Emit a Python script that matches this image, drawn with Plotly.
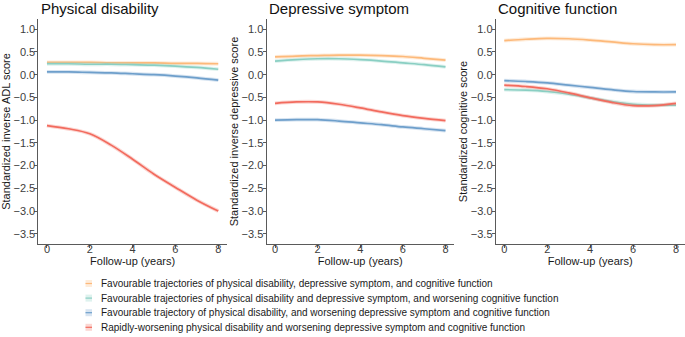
import plotly.graph_objects as go

years = [0, 1, 2, 3, 4, 5, 6, 7, 8]

series_names = [
    "Favourable trajectories of physical disability, depressive symptom, and cognitive function",
    "Favourable trajectories of physical disability and depressive symptom, and worsening cognitive function",
    "Favourable trajectory of physical disability, and worsening depressive symptom and cognitive function",
    "Rapidly-worsening physical disability and worsening depressive symptom and cognitive function",
]
colors = ["#FDB97A", "#8ACFC3", "#6E9FCB", "#F26B5E"]
band_colors = ["rgba(253,185,122,0.28)", "rgba(138,207,195,0.28)",
               "rgba(110,159,203,0.28)", "rgba(242,107,94,0.28)"]

# Physical disability (standardized inverse ADL score)
adl_orange = [0.27, 0.27, 0.27, 0.26, 0.26, 0.26, 0.25, 0.25, 0.24]
adl_teal = [0.24, 0.24, 0.23, 0.23, 0.22, 0.21, 0.19, 0.16, 0.12]
adl_blue = [0.06, 0.06, 0.05, 0.04, 0.02, 0.00, -0.03, -0.07, -0.12]
adl_red = [-1.12, -1.19, -1.30, -1.55, -1.86, -2.19, -2.48, -2.76, -3.00]

# Depressive symptom
dep_orange = [0.39, 0.41, 0.42, 0.43, 0.43, 0.42, 0.40, 0.36, 0.32]
dep_teal = [0.30, 0.33, 0.35, 0.35, 0.33, 0.30, 0.26, 0.22, 0.17]
dep_blue = [-1.00, -0.99, -0.99, -1.02, -1.06, -1.10, -1.15, -1.19, -1.23]
dep_red = [-0.63, -0.60, -0.60, -0.65, -0.73, -0.82, -0.90, -0.96, -1.01]

# Cognitive function
cog_orange = [0.75, 0.78, 0.80, 0.79, 0.76, 0.72, 0.68, 0.66, 0.66]
cog_teal = [-0.33, -0.34, -0.37, -0.43, -0.51, -0.59, -0.65, -0.67, -0.67]
cog_blue = [-0.13, -0.15, -0.18, -0.23, -0.28, -0.33, -0.37, -0.38, -0.38]
cog_red = [-0.23, -0.26, -0.31, -0.40, -0.51, -0.61, -0.68, -0.68, -0.63]

panel_titles = ["Physical disability", "Depressive symptom", "Cognitive function"]
y_titles = ["Standardized inverse ADL score", "Standardized inverse depressive score",
            "Standardized cognitive score"]
x_title = "Follow-up (years)"
y_ticks = [1.0, 0.5, 0.0, -0.5, -1.0, -1.5, -2.0, -2.5, -3.0, -3.5]
y_ticklabels = ["1.0", "0.5", "0.0", "\u22120.5", "\u22121.0", "\u22121.5", "\u22122.0",
                "\u22122.5", "\u22123.0", "\u22123.5"]
x_ticks = [0, 2, 4, 6, 8]

panels = [
    [adl_orange, adl_teal, adl_blue, adl_red],
    [dep_orange, dep_teal, dep_blue, dep_red],
    [cog_orange, cog_teal, cog_blue, cog_red],
]

W, H = 685, 337
FONT = "Liberation Sans, Arial, sans-serif"

fig = go.Figure()

x_domains = [(38.4 / W, 226.8 / W), (266.5 / W, 454.0 / W), (495.7 / W, 684.6 / W)]
y_domain = (1 - 244 / H, 1 - 19 / H)

for p, data in enumerate(panels):
    xa = "x" if p == 0 else f"x{p+1}"
    ya = "y" if p == 0 else f"y{p+1}"
    for s, vals in enumerate(data):
        fig.add_trace(go.Scatter(
            x=years, y=vals, mode="lines", xaxis=xa, yaxis=ya,
            line=dict(color=band_colors[s], width=3.8, shape="spline", smoothing=1.0),
            showlegend=False, hoverinfo="skip"))
        fig.add_trace(go.Scatter(
            x=years, y=vals, mode="lines", xaxis=xa, yaxis=ya, name=series_names[s],
            line=dict(color=colors[s], width=1.7, shape="spline", smoothing=1.0),
            showlegend=False))

axis_common = dict(showline=True, linecolor="#5a5a5a", linewidth=1, showgrid=False,
                   zeroline=False, ticks="outside", ticklen=3, tickcolor="#5a5a5a",
                   tickfont=dict(family=FONT, size=11, color="#3d3d3d"))

layout = dict(
    width=W, height=H, autosize=False,
    margin=dict(l=0, r=0, t=0, b=0),
    paper_bgcolor="white", plot_bgcolor="white",
    font=dict(family=FONT, color="#1a1a1a"),
    showlegend=False,
)
for p in range(3):
    suffix = "" if p == 0 else str(p + 1)
    layout["xaxis" + suffix] = dict(
        domain=list(x_domains[p]), range=[-0.4, 8.4], tickvals=x_ticks,
        anchor="y" + suffix, ticklabelstandoff=-8,
        title=dict(text=x_title, font=dict(family=FONT, size=11, color="#1a1a1a"), standoff=3),
        **axis_common)
    layout["yaxis" + suffix] = dict(
        domain=list(y_domain), range=[-3.725, 1.225], tickvals=y_ticks,
        ticktext=y_ticklabels, anchor="x" + suffix, ticklabelstandoff=-3,
        title=dict(text=y_titles[p], font=dict(family=FONT, size=11, color="#1a1a1a"), standoff=0),
        **axis_common)

fig.update_layout(**layout)

# Panel titles
for p in range(3):
    fig.add_annotation(text=panel_titles[p], xref="paper", yref="paper",
                       x=x_domains[p][0] + 0.5 / W, y=1 - 8.5 / H, xanchor="left", yanchor="middle",
                       showarrow=False, font=dict(family=FONT, size=15, color="#111111"))

# Legend (key + label rows)
legend_y0 = 283.5
legend_dy = 14.6
for s in range(4):
    yc = legend_y0 + s * legend_dy
    fig.add_shape(type="rect", xref="paper", yref="paper",
                  x0=85.5 / W, x1=92 / W, y0=1 - (yc - 3.5) / H, y1=1 - (yc + 3.5) / H,
                  fillcolor=band_colors[s], line=dict(width=0))
    fig.add_shape(type="line", xref="paper", yref="paper",
                  x0=85.5 / W, x1=92 / W, y0=1 - yc / H, y1=1 - yc / H,
                  line=dict(color=colors[s], width=1.2))
    fig.add_annotation(text=series_names[s], xref="paper", yref="paper",
                       x=98.5 / W, y=1 - yc / H, xanchor="left", yanchor="middle",
                       showarrow=False, font=dict(family=FONT, size=10, color="#1a1a1a"))

fig.write_html("out.html", config={"displayModeBar": False},
               post_script="document.body.style.margin='0';document.body.style.overflow='hidden';")
